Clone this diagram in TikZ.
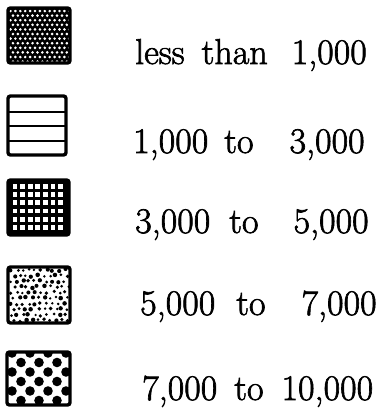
\documentclass[tikz,border=0pt]{standalone}
\usepackage{fontspec}
\usepackage{tikz}
\usetikzlibrary{positioning}
\newfontfamily\legendfont{Latin Modern Roman}[FakeBold=1.8]

\tikzset{
  swatch/.style={draw=black,line width=3.4pt,rounded corners=2.5pt},
  legendtext/.style={anchor=base west,inner sep=0pt,font=\legendfont\fontsize{36}{40}\selectfont},
}

\begin{document}
\begin{tikzpicture}[x=1pt,y=-1pt]

%% ── page frame ───────────────────────────────────────────────────────────────
\useasboundingbox (0,0) rectangle (383,418);

%% ════════════════════════════════════════════════════════════════════════════
%%  SWATCH 1 — black with fine white dots (less than 1,000)
%% ════════════════════════════════════════════════════════════════════════════
\begin{scope}
  \clip (8,8) rectangle (70,63);
  \fill[black] (8,8) rectangle (70,63);
  \foreach \i in {0,...,12}{%
    \foreach \j in {0,...,11}{%
      \pgfmathsetmacro\xx{10.5+\i*4.9+mod(\j,2)*2.45}
      \fill[white] (\xx,{11+\j*4.6}) circle (1.45pt);
    }
  }
\end{scope}
\draw[swatch] (8,8) rectangle (70,63);

%% ════════════════════════════════════════════════════════════════════════════
%%  SWATCH 2 — horizontal bars (1,000 to 3,000)
%% ════════════════════════════════════════════════════════════════════════════
\draw[swatch] (8,96) rectangle (66,155);
\foreach \yy in {112,126,141}{%
  \draw[line width=2.6pt] (8,\yy) -- (66,\yy);
}

%% ════════════════════════════════════════════════════════════════════════════
%%  SWATCH 3 — black grid with white squares (3,000 to 5,000)
%% ════════════════════════════════════════════════════════════════════════════
\fill[black,rounded corners=2.5pt] (8,180) rectangle (69,235);
\foreach \i in {0,...,6}{%
  \foreach \j in {0,...,5}{%
    \fill[white] ({12.5+\i*7.6},{184+\j*8.2}) rectangle ++(4.8,4.8);
  }
}
\draw[swatch] (8,180) rectangle (69,235);

%% ════════════════════════════════════════════════════════════════════════════
%%  SWATCH 4 — scattered small dots (5,000 to 7,000)
%% ════════════════════════════════════════════════════════════════════════════
\pgfmathsetseed{41}
\begin{scope}
  \clip (8,267) rectangle (70,323);
  \foreach \i in {0,...,9}{%
    \foreach \j in {0,...,9}{%
      \pgfmathsetmacro\xx{11+\i*6.0+mod(\j,2)*3+1.5*rand}
      \pgfmathsetmacro\yy{270+\j*5.6+1.2*rand}
      \pgfmathsetmacro\rr{1.3+1.0*rnd}
      \fill[black] (\xx,\yy) circle (\rr pt);
    }
  }
\end{scope}
\draw[swatch] (8,267) rectangle (70,323);

%% ════════════════════════════════════════════════════════════════════════════
%%  SWATCH 5 — large dots (7,000 to 10,000)
%% ════════════════════════════════════════════════════════════════════════════
\begin{scope}
  \clip (7,352) rectangle (70,405);
  \foreach \i in {0,...,4}{%
    \foreach \j in {0,...,5}{%
      \pgfmathsetmacro\xx{12+\i*18-mod(\j,2)*9}
      \fill[black] (\xx,{353+\j*9.5}) circle (4.8pt);
    }
  }
\end{scope}
\draw[swatch] (7,352) rectangle (70,405);

%% ── legend labels ────────────────────────────────────────────────────────────
\node[legendtext] (lblA) at (135,64)
  {less\hspace{17pt}than\hspace{24pt}1,000};
\node[legendtext] (lblB) at (133,153)
  {1,000\hspace{16pt}to\hspace{36pt}3,000};
\node[legendtext] (lblC) at (135,233)
  {3,000\hspace{19pt}to\hspace{35pt}5,000};
\node[legendtext] (lblD) at (140,315)
  {5,000\hspace{21pt}to\hspace{36pt}7,000};
\node[legendtext] (lblE) at (142,400)
  {7,000\hspace{17pt}to\hspace{18pt}10,000};

\end{tikzpicture}
\end{document}
